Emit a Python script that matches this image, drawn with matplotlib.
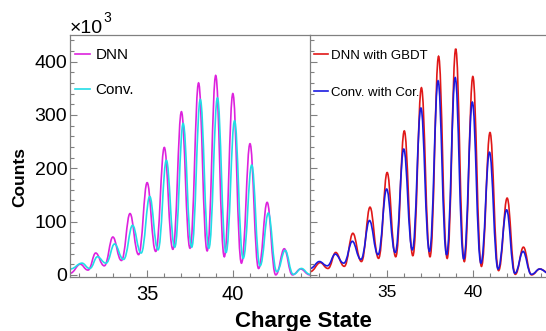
import matplotlib
matplotlib.use("Agg")
import matplotlib.pyplot as plt
from matplotlib.path import Path
from matplotlib.patches import PathPatch
from matplotlib.lines import Line2D
from matplotlib.ticker import MultipleLocator, FixedLocator

plt.rcParams["font.family"] = ["Liberation Sans", "DejaVu Sans"]

# counts in units of 10^3
# left panel
dnn_peak_x = [31.1, 32.0, 33.0, 34.0, 35.0, 36.0, 37.0, 38.0, 39.0, 40.0, 41.0, 42.0, 43.0, 43.95]
dnn_peak_y = [20, 41, 71, 115, 173, 239, 306, 360, 374, 340, 246, 136, 49, 11]
dnn_valley_y = [3, 9, 17, 27, 38, 44, 48, 50, 45, 34, 22, 12, 0, 0, 0]

conv_peak_x = [31.2, 32.1, 33.1, 34.15, 35.15, 36.12, 37.1, 38.1, 39.1, 40.1, 41.1, 42.07, 43.05, 44.0]
conv_peak_y = [22, 34, 58, 93, 147, 215, 284, 329, 332, 289, 206, 116, 46, 12]
conv_valley_y = [11, 12, 22, 29, 41, 47, 52, 52, 50, 42, 31, 17, 6, 1, 1]

# right panel
gbdt_peak_x = [31.1, 32.0, 33.0, 34.0, 35.0, 36.0, 37.0, 38.0, 39.0, 40.0, 41.0, 42.0, 42.95, 43.9]
gbdt_peak_y = [23, 42, 78, 127, 192, 270, 351, 410, 424, 372, 267, 144, 52, 11]
gbdt_valley_y = [6, 12, 16, 25, 31, 34, 36, 34, 31, 25, 16, 8, 1, 0, 3]

cor_peak_x = [31.05, 31.97, 32.97, 33.97, 34.97, 35.97, 36.97, 37.97, 38.97, 39.97, 40.97, 41.97, 42.93, 43.9]
cor_peak_y = [25, 39, 63, 102, 161, 236, 313, 364, 370, 324, 230, 122, 44, 11]
cor_valley_y = [12, 17, 22, 29, 38, 42, 47, 44, 38, 30, 22, 11, 3, 1, 2]

XMIN, XMAX = 30.5, 44.5
YMIN, YMAX = -4, 450
FRAME = "#808080"

VAL_K = 0.45   # valley roundness
PEAK_K = 0.38  # peak roundness


def spectrum_patch(peak_x, peak_y, valley_y, color):
    """smooth curve through valleys/peaks, horizontal tangent at each extremum"""
    valley_x = [XMIN] + [(a + b) / 2 for a, b in zip(peak_x[:-1], peak_x[1:])] + [XMAX]
    pts = []
    for i in range(len(peak_x)):
        pts.append((valley_x[i], valley_y[i]))
        pts.append((peak_x[i], peak_y[i]))
    pts.append((valley_x[-1], valley_y[-1]))
    verts, codes = [pts[0]], [Path.MOVETO]
    for i in range(len(pts) - 1):
        (xa, ya), (xb, yb) = pts[i], pts[i + 1]
        dx = xb - xa
        ka, kb = (VAL_K, PEAK_K) if i % 2 == 0 else (PEAK_K, VAL_K)
        verts += [(xa + ka * dx, ya), (xb - kb * dx, yb), (xb, yb)]
        codes += [Path.CURVE4] * 3
    return PathPatch(Path(verts, codes), fill=False, edgecolor=color, lw=1.2)


def style(ax, xlabsize, ylabels=True):
    ax.set_xlim(XMIN, XMAX)
    ax.set_ylim(YMIN, YMAX)
    for s in ax.spines.values():
        s.set_color(FRAME)
        s.set_linewidth(0.9)
    ax.spines["right"].set_visible(False)
    ax.xaxis.set_major_locator(FixedLocator([35, 40]))
    ax.xaxis.set_minor_locator(MultipleLocator(1))
    ax.yaxis.set_major_locator(MultipleLocator(100))
    ax.yaxis.set_minor_locator(MultipleLocator(20))
    ax.tick_params(which="both", direction="in", color=FRAME, width=0.8,
                   top=False, right=False)
    ax.tick_params(which="major", length=5)
    ax.tick_params(which="minor", length=3)
    ax.tick_params(axis="x", labelsize=xlabsize, pad=6)
    ax.tick_params(axis="y", labelsize=14, pad=2, labelleft=ylabels)


fig = plt.figure(figsize=(5.46, 3.31), dpi=100)
b, h = 1 - 277 / 331, 242 / 331
axl = fig.add_axes([70 / 546, b, 240 / 546, h])
axr = fig.add_axes([310 / 546, b, 240 / 546, h])

style(axl, 14.5)
style(axr, 12.5, ylabels=False)

panels = [
    (axl, [(dnn_peak_x, dnn_peak_y, dnn_valley_y, "#dd22dd", "DNN"),
           (conv_peak_x, conv_peak_y, conv_valley_y, "#22dde6", "Conv.")]),
    (axr, [(gbdt_peak_x, gbdt_peak_y, gbdt_valley_y, "#e01818", "DNN with GBDT"),
           (cor_peak_x, cor_peak_y, cor_valley_y, "#1a1ae0", "Conv. with Cor.")]),
]
handles = {}
for ax, series in panels:
    handles[ax] = []
    for px, py, vy, c, lab in series:
        ax.add_patch(spectrum_patch(px, py, vy, c))
        handles[ax].append(Line2D([], [], color=c, lw=1.2, label=lab))

axl.legend(handles=handles[axl], loc="upper left", bbox_to_anchor=(0.02, 0.945),
           frameon=False, fontsize=11, handlelength=1.0,
           handletextpad=0.35, labelspacing=1.35, borderpad=0, borderaxespad=0)
axr.legend(handles=handles[axr], loc="upper left", bbox_to_anchor=(0.018, 0.94),
           frameon=False, fontsize=9.5, handlelength=1.0,
           handletextpad=0.3, labelspacing=1.9, borderpad=0, borderaxespad=0)

fig.text(70 / 546, 1 - 33 / 331, "\u00d710", fontsize=14, ha="left", va="baseline")
fig.text(103 / 546, 1 - 22 / 331, "3", fontsize=10, ha="left", va="baseline")

fig.text(20 / 546, 1 - 177 / 331, "Counts", rotation=90, fontsize=12.5,
         fontweight="bold", ha="center", va="center")
fig.text(303 / 546, 1 - 321 / 331, "Charge State", fontsize=16,
         fontweight="bold", ha="center", va="center")

fig.savefig("out.png", dpi=100)
